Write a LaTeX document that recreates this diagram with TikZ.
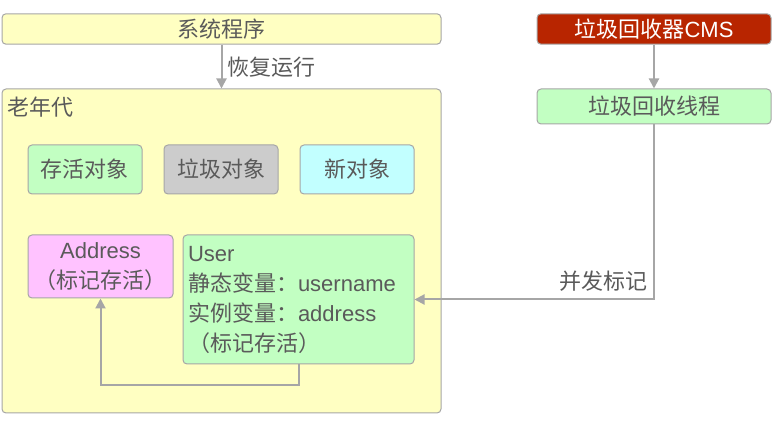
\documentclass[tikz,border=0pt]{standalone}
\usepackage{fontspec}
\setmainfont{Liberation Sans}
\newfontfamily\cjk{Noto Sans CJK SC}
\newcommand\zh[1]{{\cjk #1}}
\usetikzlibrary{arrows.meta}

\definecolor{txtgray}{HTML}{5A5A5A}
\definecolor{linegray}{HTML}{A6A6A6}
\definecolor{boxyellow}{HTML}{FFFFC2}
\definecolor{boxgreen}{HTML}{C2FFC2}
\definecolor{boxgray}{HTML}{CCCCCC}
\definecolor{boxcyan}{HTML}{C2FFFF}
\definecolor{boxpink}{HTML}{FFC2FF}
\definecolor{boxred}{HTML}{B82500}

\begin{document}
\begin{tikzpicture}[x=1pt,y=-1pt,
  every node/.style={font=\fontsize{22}{30}\selectfont,text=txtgray},
  box/.style={draw=linegray,line width=1pt,rounded corners=4pt,inner sep=5pt},
  arr/.style={draw=linegray,line width=2pt,-{Triangle[length=10pt,width=10pt]}}]

\useasboundingbox (0,0) rectangle (772,427);

% top row
\node[box,fill=boxyellow,minimum width=439,minimum height=30] (sys) at (221.5,29) {\zh{系统程序}};
\node[box,fill=boxred,minimum width=234,minimum height=30,text=white] (cms) at (654,29) {\zh{垃圾回收器}CMS};
\node[box,fill=boxgreen,minimum width=234,minimum height=35] (thread) at (654,106.5) {\zh{垃圾回收线程}};

% old generation
\node[box,fill=boxyellow,minimum width=439,minimum height=324] (old) at (221.5,251) {};
\node[anchor=west,inner sep=0pt] (oldlbl) at (7,107) {\zh{老年代}};

\node[box,fill=boxgreen,minimum width=114,minimum height=49] (alive) at (85,169.5) {\zh{存活对象}};
\node[box,fill=boxgray,minimum width=114,minimum height=49] (garbage) at (221,169.5) {\zh{垃圾对象}};
\node[box,fill=boxcyan,minimum width=114,minimum height=49] (new) at (357,169.5) {\zh{新对象}};

\node[box,fill=boxpink,minimum width=145,minimum height=63,align=center] (addr) at (100.5,266.5)
  {Address\\\zh{（标记存活）}};
\node[box,fill=boxgreen,minimum width=231,minimum height=129,text width=221,align=left] (user) at (298.5,299.5)
  {User\\\zh{静态变量：}username\\\zh{实例变量：}address\\\zh{（标记存活）}};

% connectors
\draw[arr] (sys) -- (old);
\node[anchor=west,inner sep=0pt] (resume) at (227,67) {\zh{恢复运行}};

\draw[arr] (cms) -- (thread);
\draw[arr] (thread.south) |- (user.east);
\node[anchor=east,inner sep=0pt] (mark) at (648,281) {\zh{并发标记}};

\coordinate (turn) at (298.5,385);
\draw[arr] (user.south) -- (turn) -| (addr.south);

\end{tikzpicture}
\end{document}
